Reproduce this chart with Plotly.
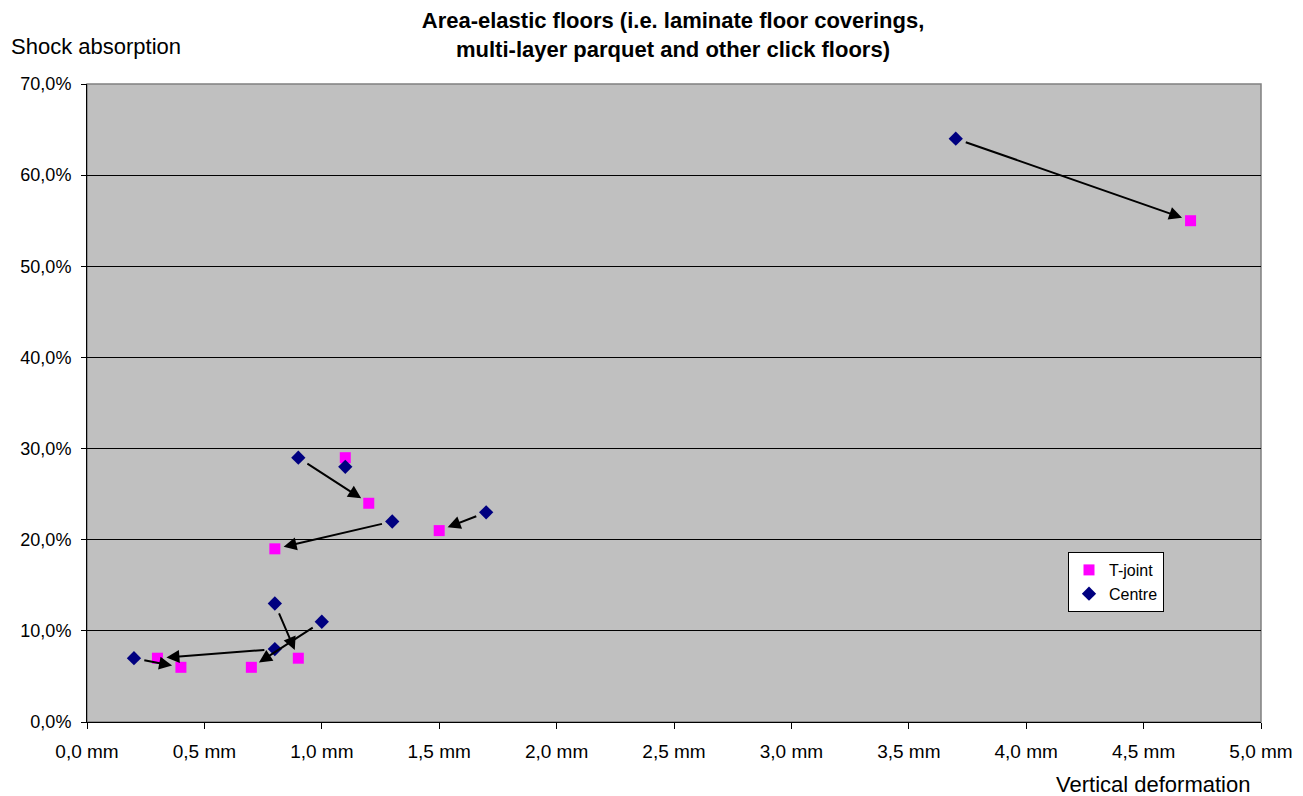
import plotly.graph_objects as go

# Data
centre_x = [0.2, 0.8, 0.8, 1.0, 0.9, 1.1, 1.3, 1.7, 3.7]
centre_y = [7, 13, 8, 11, 29, 28, 22, 23, 64]
tjoint_x = [0.3, 0.4, 0.7, 0.9, 0.8, 1.2, 1.1, 1.5, 4.7]
tjoint_y = [7, 6, 6, 7, 19, 24, 29, 21, 55]

# arrows: from centre point -> to T-joint point
arrow_from_x = [3.7, 0.9, 1.3, 1.7, 0.8, 1.0, 0.8, 0.2]
arrow_from_y = [64, 29, 22, 23, 13, 11, 8, 7]
arrow_to_x = [4.7, 1.2, 0.8, 1.5, 0.9, 0.7, 0.3, 0.4]
arrow_to_y = [55, 24, 19, 21, 7, 6, 7, 6]

x_ticks = [0, 0.5, 1.0, 1.5, 2.0, 2.5, 3.0, 3.5, 4.0, 4.5, 5.0]
x_ticktext = ["0,0 mm", "0,5 mm", "1,0 mm", "1,5 mm", "2,0 mm", "2,5 mm",
              "3,0 mm", "3,5 mm", "4,0 mm", "4,5 mm", "5,0 mm"]
y_ticks = [0, 10, 20, 30, 40, 50, 60, 70]
y_ticktext = ["0,0%", "10,0%", "20,0%", "30,0%", "40,0%", "50,0%", "60,0%", "70,0%"]

FONT = "Liberation Sans, Arial, sans-serif"

fig = go.Figure()
fig.add_trace(go.Scatter(
    x=tjoint_x, y=tjoint_y, mode="markers", name="T-joint",
    marker=dict(symbol="square", size=11, color="#FF00FF", line=dict(width=0)),
))
fig.add_trace(go.Scatter(
    x=centre_x, y=centre_y, mode="markers", name="Centre",
    marker=dict(symbol="diamond", size=11, color="#000080", line=dict(width=0)),
))

for fx, fy, tx, ty in zip(arrow_from_x, arrow_from_y, arrow_to_x, arrow_to_y):
    fig.add_annotation(
        x=tx, y=ty, ax=fx, ay=fy, xref="x", yref="y", axref="x", ayref="y",
        text="", showarrow=True, arrowhead=2, arrowsize=1.3, arrowwidth=2,
        arrowcolor="black", standoff=9, startstandoff=9,
    )

fig.add_annotation(text="Shock absorption", xref="paper", yref="paper",
                   x=-(87-9)/1174, y=1 + (84-46)/638, xanchor="left", yanchor="middle",
                   showarrow=False, font=dict(size=22, color="black", family=FONT))
fig.add_annotation(text="Vertical deformation", xref="paper", yref="paper",
                   x=(1252-87)/1174, y=-(785-722)/638, xanchor="right", yanchor="middle",
                   showarrow=False, font=dict(size=22, color="black", family=FONT))

fig.add_shape(type="rect", xref="paper", yref="paper", x0=0, y0=0, x1=1, y1=1,
              line=dict(color="#808080", width=1.5), layer="below")

fig.update_layout(
    width=1303, height=796,
    margin=dict(l=87, r=42, t=84, b=74),
    paper_bgcolor="white", plot_bgcolor="#C0C0C0",
    font=dict(family=FONT, size=18, color="black"),
    title=dict(text="<b>Area-elastic floors (i.e. laminate floor coverings,<br>multi-layer parquet and other click floors)</b>",
               x=673/1303, xanchor="center", y=1 - 28/796, yanchor="middle",
               font=dict(size=22, family=FONT, color="black"), automargin=False),
    showlegend=True,
    legend=dict(x=(1068-87)/1174, y=(722-552)/638, xanchor="left", yanchor="top",
                bgcolor="white", bordercolor="black", borderwidth=1,
                font=dict(size=16, family=FONT, color="black"),
                itemwidth=30, tracegroupgap=0),
    xaxis=dict(range=[0, 5], tickvals=x_ticks, ticktext=x_ticktext, automargin=False,
               showgrid=False, zeroline=False, showline=True, linecolor="black", linewidth=1,
               ticks="outside", ticklen=6, tickcolor="black", ticklabelstandoff=6,
               tickfont=dict(size=19), fixedrange=True),
    yaxis=dict(range=[0, 70], tickvals=y_ticks, ticktext=y_ticktext, automargin=False,
               showgrid=True, gridcolor="black", gridwidth=1, zeroline=False,
               showline=True, linecolor="black", linewidth=1,
               ticks="outside", ticklen=5, tickcolor="black", ticklabelstandoff=6,
               tickfont=dict(size=18), fixedrange=True),
)

fig.write_html("out.html")
